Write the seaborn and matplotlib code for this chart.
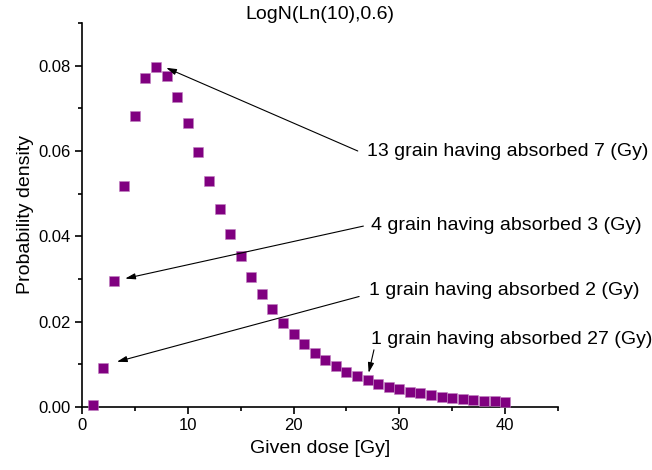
import matplotlib
matplotlib.use("Agg")
import matplotlib.pyplot as plt
import seaborn as sns
import pandas as pd
from matplotlib.ticker import MultipleLocator

dose = list(range(1, 41))
density = [0.00042, 0.00911, 0.0296, 0.0518, 0.0682, 0.0771, 0.0796, 0.0776, 0.0727, 0.0665,
           0.0597, 0.0529, 0.04648, 0.04058, 0.03528, 0.03058, 0.02645, 0.02286, 0.01975, 0.01706,
           0.01474, 0.01275, 0.01103, 0.00956, 0.00829, 0.00720, 0.00626, 0.00545, 0.00475, 0.00415,
           0.00362, 0.00317, 0.00278, 0.00244, 0.00215, 0.00189, 0.00167, 0.00147, 0.00130, 0.00115]

labels = ["13 grain having absorbed 7 (Gy)", "4 grain having absorbed 3 (Gy)",
          "1 grain having absorbed 2 (Gy)", "1 grain having absorbed 27 (Gy)"]
label_pos = [(26.9, 0.0600), (27.3, 0.0426), (27.1, 0.0273), (27.3, 0.0158)]
arrow_tail = [(26.07, 0.0600), (26.6, 0.0424), (26.2, 0.0259), (27.6, 0.0134)]
arrow_tip = [(7.96, 0.0795), (4.08, 0.0301), (3.3, 0.0106), (27.1, 0.0080)]

sns.set_style("ticks")
plt.rcParams['font.family'] = ['Liberation Sans', 'DejaVu Sans']
plt.rcParams['text.color'] = 'black'
plt.rcParams['axes.labelcolor'] = 'black'
plt.rcParams['xtick.color'] = 'black'
plt.rcParams['ytick.color'] = 'black'

fig = plt.figure(figsize=(6.52, 4.70), dpi=100)
ax = fig.add_axes([82/652, 63/470, (558-82)/652, (407-23)/470])

df = pd.DataFrame({"dose": dose, "density": density})
sns.scatterplot(data=df, x="dose", y="density", ax=ax, marker="s", s=44,
                color="#800080", edgecolor="#c080c0", linewidth=0.4, zorder=3, clip_on=False)

ax.set_xlim(0, 45)
ax.set_ylim(0, 0.09)
ax.xaxis.set_major_locator(MultipleLocator(10))
ax.xaxis.set_minor_locator(MultipleLocator(5))
ax.yaxis.set_major_locator(MultipleLocator(0.02))
ax.yaxis.set_minor_locator(MultipleLocator(0.01))
ax.set_yticks([0, 0.02, 0.04, 0.06, 0.08])
ax.set_yticklabels(["0.00", "0.02", "0.04", "0.06", "0.08"])
ax.tick_params(axis="both", which="major", length=5, width=1.2, labelsize=12, direction="out",
               color="black", pad=3)
ax.tick_params(axis="both", which="minor", length=3, width=1.2, direction="out", color="black")
for s in ["left", "bottom"]:
    ax.spines[s].set_linewidth(1.2)
    ax.spines[s].set_color("black")
for s in ["top", "right"]:
    ax.spines[s].set_visible(False)

ax.set_xlabel("Given dose [Gy]", fontsize=14, labelpad=5)
ax.set_ylabel("Probability density", fontsize=14, labelpad=3)
ax.set_title("LogN(Ln(10),0.6)", fontsize=14, pad=1)

for lab, pos, tail, tip in zip(labels, label_pos, arrow_tail, arrow_tip):
    ax.annotate("", xy=tip, xytext=tail,
                arrowprops=dict(arrowstyle="-|>,head_length=0.6,head_width=0.18",
                                color="black", lw=0.8, shrinkA=0, shrinkB=0))
    ax.text(pos[0], pos[1], lab, fontsize=14, va="center", ha="left")

fig.savefig("out.png", dpi=100)
